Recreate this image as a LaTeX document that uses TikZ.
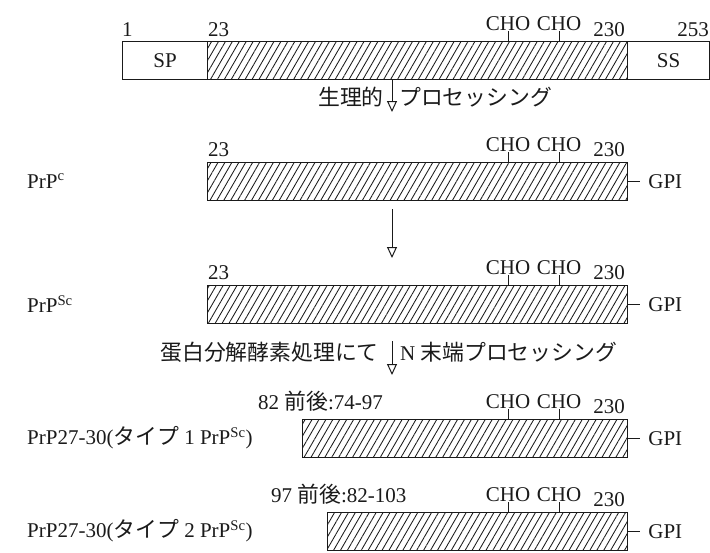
\documentclass[tikz,border=0pt]{standalone}
\usepackage{fontspec}
\setmainfont{Liberation Serif}
\newfontfamily\jp[Scale=1.04]{Noto Sans CJK JP}
\usepackage{tikz}
\usetikzlibrary{arrows.meta, patterns.meta, positioning}
\definecolor{cLine}{HTML}{1A1A1A}

\begin{document}
\begin{tikzpicture}[x=1pt, y=-1pt,
  every node/.style={font=\fontsize{21}{23}\selectfont, inner sep=0pt, text=cLine},
  bar/.style={draw=cLine, line width=1.2pt, anchor=north west, minimum height=38pt,
    pattern={Lines[angle=60, distance=6pt, line width=0.85pt]}, pattern color=cLine},
  plain/.style={draw=cLine, line width=1.2pt, anchor=north west, minimum height=38pt},
  num/.style={anchor=base west},
  numr/.style={anchor=base east},
  cho/.style={anchor=base},
  tick/.style={line width=1pt, draw=cLine},
  ar/.style={-{Triangle[open, length=11pt, width=10pt, line width=1pt]}, line width=1pt, draw=cLine}
]
\useasboundingbox (0,0) rectangle (710,552);

% precursor
\node[plain, minimum width=85pt] (sp) at (122,41) {SP};
\node[bar, minimum width=420pt] (mat) at (207,41) {};
\node[plain, minimum width=82pt] (ss) at (627,41) {SS};
\node[num] (n1) at (122,36) {1};
\node[num] (n23) at (208,36) {23};
\node[numr] (n230) at (625,36) {230};
\node[numr] (n253) at (709,36) {253};
\node[cho] (cA) at (508,30) {CHO};
\node[cho] (cB) at (559,30) {CHO};
\draw[tick] (cA.south |- mat.north) -- ++(0,-10);
\draw[tick] (cB.south |- mat.north) -- ++(0,-10);

\coordinate (a1) at (392,112);
\draw[ar] (mat.south -| a1) -- (a1);
\node[anchor=east] (p1l) at (384,97) {\jp 生理的};
\node[anchor=west] (p1r) at (399,97) {\jp プロセッシング};

% PrPc
\node[anchor=west] (lc) at (27,181) {PrP\textsuperscript{c}};
\node[bar, minimum width=420pt] (prpc) at (207,162) {};
\node[num] (c23) at (208,156) {23};
\node[numr] (c230) at (625,156) {230};
\node[cho] (ccA) at (508,151) {CHO};
\node[cho] (ccB) at (559,151) {CHO};
\draw[tick] (ccA.south |- prpc.north) -- ++(0,-10);
\draw[tick] (ccB.south |- prpc.north) -- ++(0,-10);
\node[right=20pt of prpc] (gc) {GPI};
\draw[tick, shorten >=8pt] (prpc.east) -- (gc.west);

\coordinate (a2) at (392,258);
\draw[ar, shorten <=8pt] (prpc.south -| a2) -- (a2);

% PrPSc
\node[anchor=west] (lsc) at (27,304) {PrP\textsuperscript{Sc}};
\node[bar, minimum width=420pt] (prpsc) at (207,285) {};
\node[num] (s23) at (208,279) {23};
\node[numr] (s230) at (625,279) {230};
\node[cho] (csA) at (508,274) {CHO};
\node[cho] (csB) at (559,274) {CHO};
\draw[tick] (csA.south |- prpsc.north) -- ++(0,-10);
\draw[tick] (csB.south |- prpsc.north) -- ++(0,-10);
\node[right=20pt of prpsc] (gsc) {GPI};
\draw[tick, shorten >=8pt] (prpsc.east) -- (gsc.west);

\coordinate (a3) at (392,375);
\draw[ar, shorten <=17pt] (prpsc.south -| a3) -- (a3);
\node[anchor=east] (p3l) at (379,352) {\jp 蛋白分解酵素処理にて};
\node[anchor=west] (p3r) at (400,352) {N {\jp 末端プロセッシング}};

% type 1
\node[anchor=west] (l1) at (27,438) {PrP27-30({\jp タイプ} 1 PrP\textsuperscript{Sc})};
\node[bar, minimum width=325pt] (t1) at (302,419) {};
\node[num] (t1n) at (258,409) {82 {\jp 前後}:74-97};
\node[numr] (t1e) at (625,413) {230};
\node[cho] (c1A) at (508,408) {CHO};
\node[cho] (c1B) at (559,408) {CHO};
\draw[tick] (c1A.south |- t1.north) -- ++(0,-10);
\draw[tick] (c1B.south |- t1.north) -- ++(0,-10);
\node[right=20pt of t1] (g1) {GPI};
\draw[tick, shorten >=8pt] (t1.east) -- (g1.west);

% type 2
\node[anchor=west] (l2) at (27,531) {PrP27-30({\jp タイプ} 2 PrP\textsuperscript{Sc})};
\node[bar, minimum width=300pt] (t2) at (327,512) {};
\node[num] (t2n) at (271,502) {97 {\jp 前後}:82-103};
\node[numr] (t2e) at (625,506) {230};
\node[cho] (c2A) at (508,501) {CHO};
\node[cho] (c2B) at (559,501) {CHO};
\draw[tick] (c2A.south |- t2.north) -- ++(0,-10);
\draw[tick] (c2B.south |- t2.north) -- ++(0,-10);
\node[right=20pt of t2] (g2) {GPI};
\draw[tick, shorten >=8pt] (t2.east) -- (g2.west);
\end{tikzpicture}
\end{document}
